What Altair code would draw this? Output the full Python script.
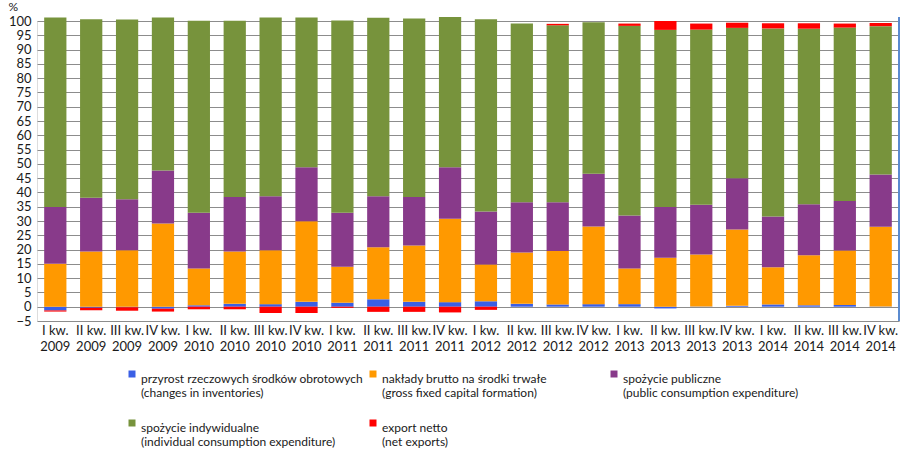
import altair as alt
import pandas as pd

quarters = [
    "I kw.|2009", "II kw.|2009", "III kw.|2009", "IV kw.|2009",
    "I kw.|2010", "II kw.|2010", "III kw.|2010", "IV kw.|2010",
    "I kw.|2011", "II kw.|2011", "III kw.|2011", "IV kw.|2011",
    "I kw.|2012", "II kw.|2012", "III kw.|2012", "IV kw.|2012",
    "I kw.|2013", "II kw.|2013", "III kw.|2013", "IV kw.|2013",
    "I kw.|2014", "II kw.|2014", "III kw.|2014", "IV kw.|2014",
]

series_names = [
    "przyrost rzeczowych środków obrotowych|(changes in inventories)",
    "nakłady brutto na środki trwałe|(gross fixed capital formation)",
    "spożycie publiczne|(public consumption expenditure)",
    "spożycie indywidualne|(individual consumption expenditure)",
    "export netto|(net exports)",
]
colors = ["#3A5FE5", "#FF9900", "#883A8A", "#77933C", "#FF0000"]

inventories = [-1.3, -0.4, -0.2, -0.7, 0.5, 1.0, 0.9, 1.7, 1.4, 2.6, 1.7, 1.6,
               1.9, 1.0, 0.8, 0.9, 0.9, -0.6, 0.1, 0.3, 0.8, 0.5, 0.6, 0.1]
fixed_capital = [15.0, 19.3, 19.8, 29.1, 12.9, 18.3, 18.9, 28.2, 12.6, 18.2, 19.7, 29.2,
                 12.9, 18.0, 18.7, 27.2, 12.5, 17.1, 18.2, 26.7, 13.0, 17.5, 19.1, 27.9]
public_cons = [19.9, 18.8, 17.8, 18.6, 19.5, 19.1, 18.9, 18.9, 18.9, 17.9, 17.0, 18.0,
               18.5, 17.6, 17.1, 18.4, 18.5, 17.8, 17.4, 18.0, 17.8, 17.9, 17.3, 18.3]
individual_cons = [66.3, 62.5, 62.9, 53.5, 67.2, 61.7, 62.5, 52.4, 67.3, 62.4, 62.5, 52.6,
                   67.3, 62.5, 61.9, 53.1, 66.4, 62.0, 61.3, 52.6, 65.8, 61.4, 60.7, 51.9]
net_exports = [-0.4, -0.8, -1.2, -1.0, -0.9, -0.9, -2.2, -2.2, -0.4, -1.8, -1.8, -2.0,
               -1.1, 0.0, 0.5, 0.0, 0.8, 3.1, 2.1, 1.8, 1.8, 1.9, 1.4, 1.1]

y_ticks = list(range(-5, 101, 5))

all_series = [inventories, fixed_capital, public_cons, individual_cons, net_exports]
rows = []
for si, (name, vals) in enumerate(zip(series_names, all_series)):
    for q, v in zip(quarters, vals):
        rows.append({"quarter": q, "series": name, "value": v, "ord": si})
df = pd.DataFrame(rows)

FONT = "Lato"
W, H = 862, 300

bars = alt.Chart(df).mark_bar().encode(
    x=alt.X("quarter:N", sort=quarters,
            scale=alt.Scale(paddingInner=0.38, paddingOuter=0.2),
            axis=alt.Axis(title=None, labelExpr="split(datum.label,'|')",
                          labelAngle=0, labelLineHeight=16, labelPadding=3,
                          domain=False, ticks=False, grid=False,
                          labelFont=FONT, labelFontSize=13, labelColor="#1a1a1a")),
    y=alt.Y("value:Q", stack="zero",
            scale=alt.Scale(domain=[-5, 100], nice=False, zero=False),
            axis=alt.Axis(values=y_ticks, title="%", titleAngle=0,
                          titleX=-29, titleY=-20, titleAlign="left", titleBaseline="top",
                          titleFont=FONT, titleFontSize=12, titleFontWeight="normal",
                          titleColor="#1a1a1a",
                          domain=False, ticks=False, labelPadding=6,
                          labelFont=FONT, labelFontSize=13, labelColor="#1a1a1a",
                          grid=True, gridColor="#8c8c8c", gridWidth=1)),
    color=alt.Color("series:N", sort=series_names,
                    scale=alt.Scale(domain=series_names, range=colors),
                    legend=alt.Legend(orient="none", legendX=89, legendY=347,
                                      direction="horizontal",
                                      title=None, columns=3, gridAlign="all",
                                      columnPadding=4, rowPadding=18,
                                      symbolType="square", symbolSize=49,
                                      symbolStrokeWidth=0, labelOffset=3,
                                      labelExpr="split(datum.label,'|')",
                                      labelBaseline="top",
                                      labelFont=FONT, labelFontSize=12,
                                      labelColor="#1a1a1a", labelLimit=400)),
    order=alt.Order("ord:Q"),
)

edge = alt.Chart(df).mark_rule(color="#5B8BD0", strokeWidth=2).encode(
    x=alt.value(W), y=alt.value(-4), y2=alt.value(H)
)

chart = alt.layer(bars, edge).properties(
    width=W, height=H,
    autosize=alt.AutoSizeParams(type="none"),
    padding={"left": 37, "top": 21, "right": 9, "bottom": 145},
).configure_view(stroke=None).configure(background="white")

chart.save("out.html", embed_options={"renderer": "svg", "actions": False})
